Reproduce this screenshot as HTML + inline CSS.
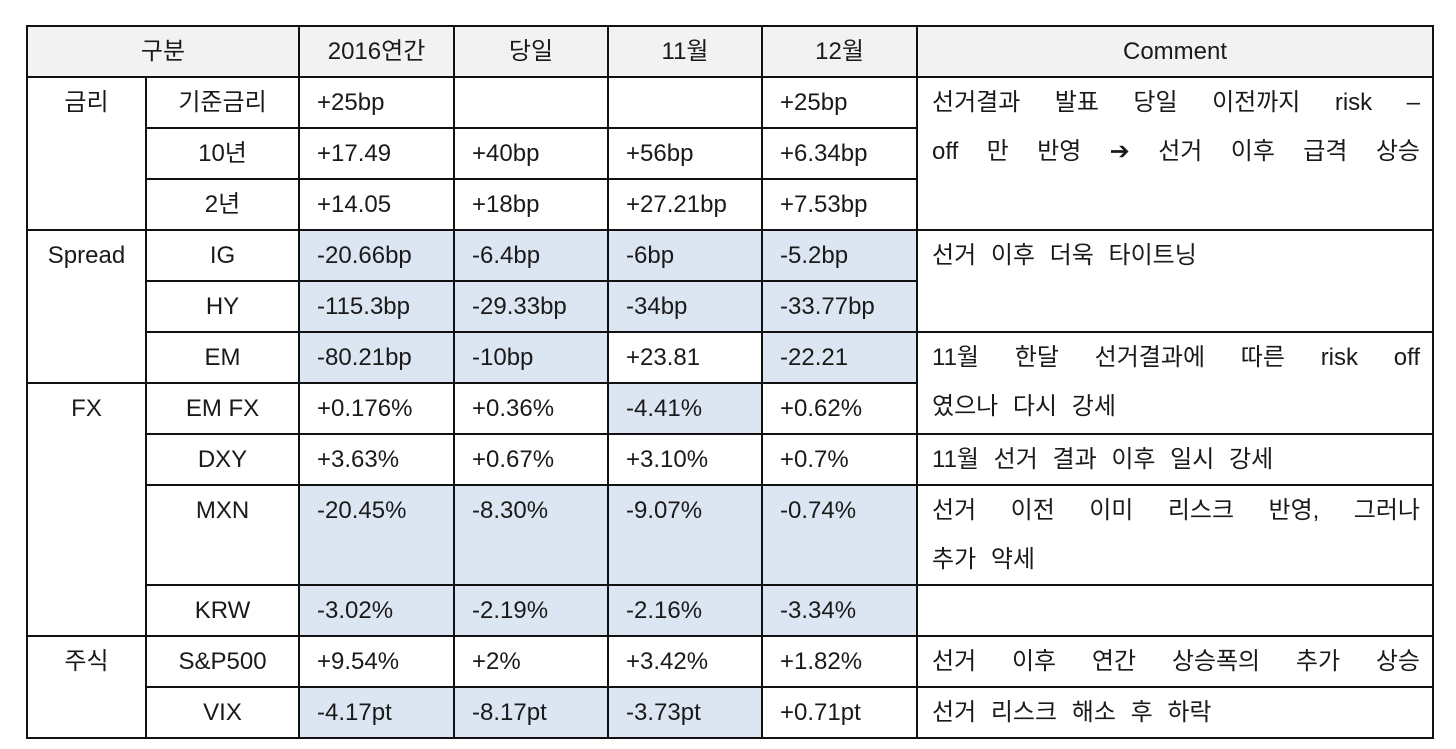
<!DOCTYPE html>
<html><head><meta charset="utf-8"><style>
html,body{margin:0;padding:0;background:#fff;width:1456px;height:749px;overflow:hidden}
table{position:absolute;left:26px;top:25px;width:1406px;border-collapse:collapse;table-layout:fixed;
font-family:"Liberation Sans","Noto Sans CJK KR",sans-serif;font-size:24px;color:#1a1a1a;border:2px solid #111}
td{border:2px solid #111;padding:0;vertical-align:top;line-height:49px;white-space:nowrap;overflow:hidden}
tr{height:51px}
.h td{background:#f2f2f2;text-align:center}
.c{text-align:center}
.v{padding-left:17px}
.b{background:#dce6f2}
.cm{padding-left:14px;padding-right:12px;white-space:normal;word-spacing:8px}
.j{text-align:justify;text-align-last:justify;word-spacing:0}
</style></head><body>
<table>
<colgroup><col style="width:119px"><col style="width:153px"><col style="width:155px"><col style="width:154px"><col style="width:154px"><col style="width:155px"><col style="width:516px"></colgroup>
<tr class="h"><td colspan="2">구분</td><td>2016연간</td><td>당일</td><td>11월</td><td>12월</td><td>Comment</td></tr>
<tr><td rowspan="3" class="c">금리</td><td class="c">기준금리</td><td class="v">+25bp</td><td></td><td></td><td class="v">+25bp</td><td rowspan="3" class="cm"><div class="j">선거결과 발표 당일 이전까지 risk –</div><div class="j">off 만 반영 ➔ 선거 이후 급격 상승</div></td></tr>
<tr><td class="c">10년</td><td class="v">+17.49</td><td class="v">+40bp</td><td class="v">+56bp</td><td class="v">+6.34bp</td></tr>
<tr><td class="c">2년</td><td class="v">+14.05</td><td class="v">+18bp</td><td class="v">+27.21bp</td><td class="v">+7.53bp</td></tr>
<tr><td rowspan="3" class="c">Spread</td><td class="c">IG</td><td class="v b">-20.66bp</td><td class="v b">-6.4bp</td><td class="v b">-6bp</td><td class="v b">-5.2bp</td><td rowspan="2" class="cm">선거 이후 더욱 타이트닝</td></tr>
<tr><td class="c">HY</td><td class="v b">-115.3bp</td><td class="v b">-29.33bp</td><td class="v b">-34bp</td><td class="v b">-33.77bp</td></tr>
<tr><td class="c">EM</td><td class="v b">-80.21bp</td><td class="v b">-10bp</td><td class="v">+23.81</td><td class="v b">-22.21</td><td rowspan="2" class="cm"><div class="j">11월 한달 선거결과에 따른 risk off</div><div>였으나 다시 강세</div></td></tr>
<tr><td rowspan="4" class="c">FX</td><td class="c">EM FX</td><td class="v">+0.176%</td><td class="v">+0.36%</td><td class="v b">-4.41%</td><td class="v">+0.62%</td></tr>
<tr><td class="c">DXY</td><td class="v">+3.63%</td><td class="v">+0.67%</td><td class="v">+3.10%</td><td class="v">+0.7%</td><td class="cm">11월 선거 결과 이후 일시 강세</td></tr>
<tr style="height:100px"><td class="c">MXN</td><td class="v b">-20.45%</td><td class="v b">-8.30%</td><td class="v b">-9.07%</td><td class="v b">-0.74%</td><td class="cm"><div class="j">선거 이전 이미 리스크 반영, 그러나</div><div>추가 약세</div></td></tr>
<tr><td class="c">KRW</td><td class="v b">-3.02%</td><td class="v b">-2.19%</td><td class="v b">-2.16%</td><td class="v b">-3.34%</td><td></td></tr>
<tr><td rowspan="2" class="c">주식</td><td class="c">S&amp;P500</td><td class="v">+9.54%</td><td class="v">+2%</td><td class="v">+3.42%</td><td class="v">+1.82%</td><td class="cm"><div class="j">선거 이후 연간 상승폭의 추가 상승</div></td></tr>
<tr><td class="c">VIX</td><td class="v b">-4.17pt</td><td class="v b">-8.17pt</td><td class="v b">-3.73pt</td><td class="v">+0.71pt</td><td class="cm">선거 리스크 해소 후 하락</td></tr>
</table>
</body></html>
